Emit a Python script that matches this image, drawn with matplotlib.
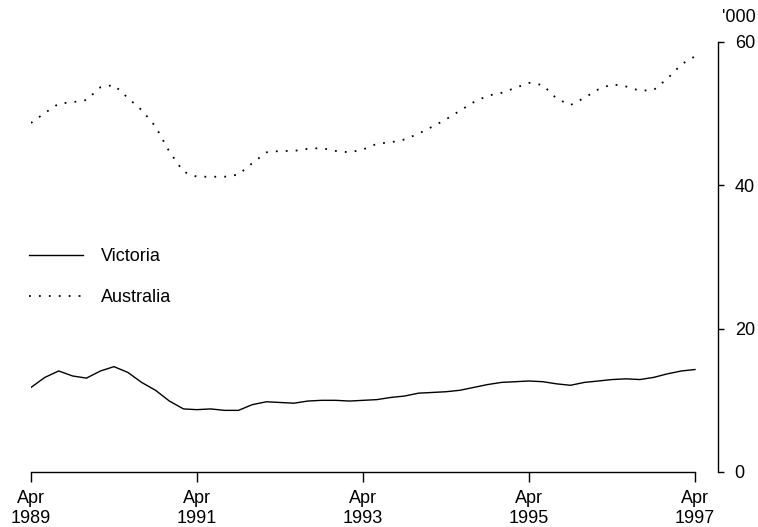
"""Victoria and Australia series, Apr 1989 to Apr 1997."""

import matplotlib

matplotlib.use("Agg")
import matplotlib.dates as mdates
import matplotlib.pyplot as plt
import pandas as pd

plt.rcParams["font.family"] = ["Liberation Sans", "DejaVu Sans"]

# bimonthly readings, '000
dates = pd.date_range("1989-04-01", "1997-04-01", freq="2MS")

victoria = [
    11.8, 13.2, 14.1, 13.4, 13.1, 14.1, 14.7, 13.9, 12.5, 11.4,
    9.9, 8.8, 8.7, 8.8, 8.6, 8.6, 9.4, 9.8, 9.7, 9.6,
    9.9, 10.0, 10.0, 9.9, 10.0, 10.1, 10.4, 10.6, 11.0, 11.1,
    11.2, 11.4, 11.8, 12.2, 12.5, 12.6, 12.7, 12.6, 12.3, 12.1,
    12.5, 12.7, 12.9, 13.0, 12.9, 13.2, 13.7, 14.1, 14.3,
]

australia = [
    48.7, 50.1, 51.4, 51.6, 51.9, 53.7, 54.0, 52.2, 50.5, 48.2,
    44.7, 41.9, 41.2, 41.2, 41.2, 41.5, 43.1, 44.6, 44.8, 44.8,
    45.1, 45.2, 44.8, 44.6, 45.0, 45.8, 46.0, 46.4, 47.2, 48.2,
    49.2, 50.4, 51.6, 52.5, 52.9, 53.6, 54.3, 54.0, 52.1, 51.2,
    52.2, 53.4, 54.1, 53.8, 53.2, 53.3, 54.9, 56.9, 58.0,
]

tick_dates = pd.date_range("1989-04-01", "1997-04-01", freq="24MS")
tick_labels = [f"Apr\n{d.year}" for d in tick_dates]
y_ticks = [0, 20, 40, 60]

W, H = 758, 527
fig = plt.figure(figsize=(W / 100, H / 100), dpi=100)
ax = fig.add_axes([31 / W, 1 - 472 / H, (718 - 31) / W, (472 - 42) / H])

ax.plot(dates, victoria, color="black", lw=1.0, label="Victoria")
ax.plot(dates, australia, color="black", lw=1.3,
        linestyle=(0, (1.0, 4.5)), label="Australia")

x0 = mdates.date2num(dates[0])
x1 = mdates.date2num(dates[-1])
ax.set_xlim(x0, x0 + (x1 - x0) * (718 - 31) / (695 - 31))
ax.set_ylim(0, 60)

ax.spines["top"].set_visible(False)
ax.spines["left"].set_visible(False)
ax.spines["bottom"].set_bounds(x0, x1)
for s in ("bottom", "right"):
    ax.spines[s].set_linewidth(1.0)

ax.set_xticks(tick_dates)
ax.set_xticklabels(tick_labels, fontsize=13)
for lbl in ax.get_xticklabels():
    lbl.set_linespacing(1.2)
ax.tick_params(axis="x", direction="out", length=7, width=1.0, pad=6)

ax.yaxis.tick_right()
ax.set_yticks(y_ticks)
ax.set_yticklabels([str(v) for v in y_ticks], fontsize=13)
ax.tick_params(axis="y", direction="out", length=4, width=1.0, pad=8)

fig.text(722 / W, 1 - 18 / H, "'000", fontsize=13, ha="left", va="center")

ax.legend(loc="upper left", bbox_to_anchor=(29 / W, 1 - 248 / H),
          bbox_transform=fig.transFigure, frameon=False, fontsize=13,
          handlelength=3.0, handletextpad=1.0, labelspacing=1.32,
          borderpad=0, borderaxespad=0)

fig.savefig("out.png", dpi=100)
